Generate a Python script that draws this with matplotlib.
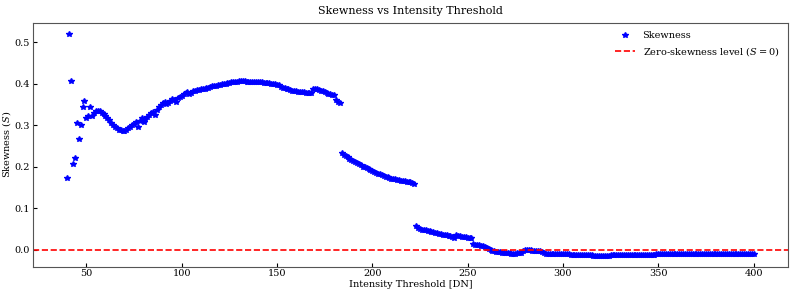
import numpy as np
import matplotlib
matplotlib.use('Agg')
import matplotlib.pyplot as plt

plt.rcParams['font.family'] = 'DejaVu Serif'
plt.rcParams['mathtext.fontset'] = 'dejavuserif'

# intensity thresholds (DN), one point per DN
thresholds = np.arange(40, 401)

# skewness values
skewness = [
    0.173, 0.520, 0.407, 0.205, 0.220, 0.304, 0.266, 0.299, 0.343, 0.358,   # 40-49
    0.316, 0.322, 0.343, 0.321, 0.330, 0.334, 0.335, 0.333, 0.330, 0.326,   # 50-59
    0.321, 0.318, 0.312, 0.306, 0.301, 0.296, 0.292, 0.289, 0.287, 0.286,   # 60-69
    0.286, 0.287, 0.293, 0.296, 0.300, 0.303, 0.307, 0.296, 0.309, 0.318,   # 70-79
    0.308, 0.314, 0.320, 0.324, 0.328, 0.332, 0.324, 0.337, 0.343, 0.348,   # 80-89
    0.353, 0.355, 0.350, 0.353, 0.357, 0.362, 0.360, 0.356, 0.364, 0.368,   # 90-99
    0.370, 0.374, 0.378, 0.380, 0.376, 0.378, 0.381, 0.383, 0.384, 0.385,   # 100-109
    0.386, 0.387, 0.388, 0.389, 0.390, 0.392, 0.393, 0.394, 0.395, 0.396,   # 110-119
    0.397, 0.398, 0.399, 0.400, 0.401, 0.402, 0.403, 0.403, 0.404, 0.404,   # 120-129
    0.405, 0.405, 0.405, 0.405, 0.404, 0.404, 0.404, 0.404, 0.404, 0.404,   # 130-139
    0.403, 0.403, 0.403, 0.402, 0.402, 0.401, 0.401, 0.400, 0.400, 0.399,   # 140-149
    0.397, 0.396, 0.392, 0.390, 0.389, 0.387, 0.386, 0.384, 0.383, 0.382,   # 150-159
    0.381, 0.380, 0.380, 0.379, 0.379, 0.378, 0.378, 0.378, 0.378, 0.386,   # 160-169
    0.386, 0.386, 0.384, 0.383, 0.382, 0.380, 0.378, 0.376, 0.375, 0.373,   # 170-179
    0.372, 0.360, 0.356, 0.352, 0.232, 0.229, 0.226, 0.222, 0.219, 0.216,   # 180-189
    0.213, 0.210, 0.208, 0.206, 0.203, 0.200, 0.198, 0.196, 0.194, 0.192,   # 190-199
    0.190, 0.188, 0.185, 0.183, 0.181, 0.180, 0.178, 0.176, 0.174, 0.173,   # 200-209
    0.171, 0.170, 0.169, 0.168, 0.167, 0.166, 0.166, 0.165, 0.164, 0.163,   # 210-219
    0.162, 0.161, 0.159, 0.056, 0.053, 0.050, 0.048, 0.047, 0.046, 0.045,   # 220-229
    0.044, 0.043, 0.042, 0.040, 0.039, 0.038, 0.037, 0.036, 0.035, 0.034,   # 230-239
    0.033, 0.032, 0.031, 0.028, 0.034, 0.033, 0.032, 0.031, 0.030, 0.030,   # 240-249
    0.029, 0.028, 0.027, 0.013, 0.012, 0.011, 0.010, 0.009, 0.008, 0.006,   # 250-259
    0.004, 0.002, 0.000, -0.003, -0.004, -0.005, -0.006, -0.007, -0.008, -0.008,   # 260-269
    -0.009, -0.009, -0.009, -0.010, -0.010, -0.010, -0.009, -0.009, -0.008, -0.003,   # 270-279
    -0.002, -0.002, -0.002, -0.002, -0.003, -0.003, -0.003, -0.004, -0.004, -0.005,   # 280-289
    -0.009, -0.0098, -0.010, -0.010, -0.010, -0.010, -0.0102, -0.0102, -0.0103, -0.0104,   # 290-299
    -0.0105, -0.011, -0.011, -0.0115, -0.012, -0.012, -0.0125, -0.013, -0.013, -0.0135,   # 300-309
    -0.0136, -0.014, -0.014, -0.014, -0.0142, -0.0142, -0.0143, -0.0144, -0.0144, -0.0144,   # 310-319
    -0.0144, -0.0144, -0.0144, -0.0143, -0.0143, -0.0142, -0.0141, -0.014, -0.014, -0.0138,   # 320-329
    -0.0137, -0.0136, -0.0135, -0.0134, -0.0133, -0.0132, -0.0131, -0.013, -0.0129, -0.0128,   # 330-339
    -0.0127, -0.0126, -0.0125, -0.0124, -0.0123, -0.0122, -0.0121, -0.012, -0.0119, -0.0118,   # 340-349
    -0.0117, -0.0116, -0.0115, -0.0114, -0.0113, -0.0112, -0.0112, -0.0111, -0.0111, -0.011,   # 350-359
    -0.011, -0.0109, -0.0109, -0.0108, -0.0108, -0.0107, -0.0107, -0.0106, -0.0106, -0.0105,   # 360-369
    -0.0105, -0.0105, -0.0104, -0.0104, -0.0104, -0.0103, -0.0103, -0.0103, -0.0102, -0.0102,   # 370-379
    -0.0102, -0.0101, -0.0101, -0.0101, -0.010, -0.010, -0.010, -0.0099, -0.0099, -0.0099,   # 380-389
    -0.0098, -0.0098, -0.0098, -0.0097, -0.0097, -0.0097, -0.0097, -0.0096, -0.0096, -0.0096,   # 390-399
    -0.0096,   # 400
]

fig = plt.figure(figsize=(7.93, 2.94), dpi=100)
ax = fig.add_axes([0.0416, 0.093, 0.952, 0.83])

ax.plot(thresholds, skewness, linestyle='none', marker='*', color='blue',
        markersize=4, label='Skewness')
ax.axhline(0, color='red', linestyle='--', linewidth=1.2,
           label='Zero-skewness level ($S=0$)')

ax.set_title('Skewness vs Intensity Threshold', fontsize=8)
ax.set_xlabel('Intensity Threshold [DN]', fontsize=7, labelpad=1)
ax.set_ylabel('Skewness ($S$)', fontsize=7, labelpad=1)
ax.tick_params(direction='in', labelsize=7, length=3, pad=2)
for s in ax.spines.values():
    s.set_color('#555555')

ax.legend(loc='upper right', frameon=False, fontsize=7)

fig.savefig('out.png', dpi=100)
